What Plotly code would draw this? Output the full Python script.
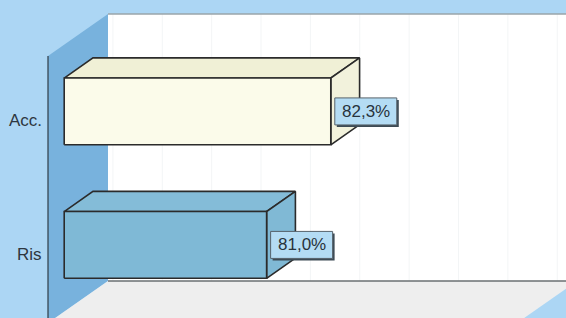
import math
import plotly.graph_objects as go

# ---- data ----
categories = ["Acc.", "Ris"]          # top to bottom
values = [82.3, 81.0]                 # percent
value_labels = ["82,3%", "81,0%"]
bar_front_colors = ["#fbfbea", "#7fb9d6"]
bar_top_colors = ["#f0f0d6", "#84bcd8"]
bar_side_colors = ["#f2f2dc", "#80b9d5"]

AXIS_MIN, AXIS_MAX = 76.9, 86.4       # value axis
GRID_STEP = 1.0

# ---- pseudo-3D geometry (data units) ----
DX, DY = 1.215, 0.3146                # full depth offset
Z_FRONT, Z_BACK = 0.27, 0.75          # bar depth span
HALF = 0.25                           # half bar thickness (category units)
n = len(categories)
C_MIN, C_MAX = -0.5, n - 0.5
cat_pos = {c: n - 1 - i for i, c in enumerate(categories)}


def P(v, c, z):
    return v + z * DX, c + z * DY


fig = go.Figure()


def poly(points, fill, line_color="rgba(0,0,0,0)", width=0):
    xs = [p[0] for p in points] + [points[0][0]]
    ys = [p[1] for p in points] + [points[0][1]]
    fig.add_trace(go.Scatter(x=xs, y=ys, mode="lines", fill="toself",
                             fillcolor=fill,
                             line=dict(color=line_color, width=width),
                             hoverinfo="skip", showlegend=False))


def seg(a, b, color, width):
    fig.add_trace(go.Scatter(x=[a[0], b[0]], y=[a[1], b[1]], mode="lines",
                             line=dict(color=color, width=width),
                             hoverinfo="skip", showlegend=False))


# back wall
poly([P(AXIS_MIN, C_MIN, 1), P(AXIS_MAX, C_MIN, 1), P(AXIS_MAX, C_MAX, 1), P(AXIS_MIN, C_MAX, 1)], "#ffffff")
g = math.ceil(AXIS_MIN)
while g <= AXIS_MAX:
    seg(P(g, C_MIN, 1), P(g, C_MAX, 1), "#f3f5f6", 1)
    g += GRID_STEP
seg(P(AXIS_MIN, C_MAX, 1), P(AXIS_MAX, C_MAX, 1), "#9aa4aa", 1.5)

# left wall
poly([P(AXIS_MIN, C_MIN, 0), P(AXIS_MIN, C_MAX, 0), P(AXIS_MIN, C_MAX, 1), P(AXIS_MIN, C_MIN, 1)], "#78b2dd")
# floor
poly([P(AXIS_MIN, C_MIN, 0), P(AXIS_MAX, C_MIN, 0), P(AXIS_MAX, C_MIN, 1), P(AXIS_MIN, C_MIN, 1)], "#eeeeee")
seg(P(AXIS_MIN, C_MIN, 1), P(AXIS_MAX, C_MIN, 1), "#6a6f72", 1.5)
# axis line
seg(P(AXIS_MIN, C_MIN, 0), P(AXIS_MIN, C_MAX, 0), "#2f3b45", 1.2)

# bars
EDGE = "#2b2b2b"
for cat, v, fc, tc, sc in zip(categories, values, bar_front_colors, bar_top_colors, bar_side_colors):
    c = cat_pos[cat]
    poly([P(AXIS_MIN, c + HALF, Z_FRONT), P(v, c + HALF, Z_FRONT), P(v, c + HALF, Z_BACK), P(AXIS_MIN, c + HALF, Z_BACK)], tc, EDGE, 1.6)
    poly([P(v, c - HALF, Z_FRONT), P(v, c - HALF, Z_BACK), P(v, c + HALF, Z_BACK), P(v, c + HALF, Z_FRONT)], sc, EDGE, 1.6)
    poly([P(AXIS_MIN, c - HALF, Z_FRONT), P(v, c - HALF, Z_FRONT), P(v, c + HALF, Z_FRONT), P(AXIS_MIN, c + HALF, Z_FRONT)], fc, EDGE, 1.6)

FONT = "Liberation Sans, Arial, sans-serif"
BOX_W, BOX_H, GAP, SH = 62, 27, 4, 2
for cat, v, lab in zip(categories, values, value_labels):
    c = cat_pos[cat]
    x, y = P(v, c, Z_FRONT)
    # shadow + box (pixel-sized shapes anchored at the bar end)
    fig.add_shape(type="rect", xref="x", yref="y", xsizemode="pixel", ysizemode="pixel",
                  xanchor=x, yanchor=y, x0=GAP + SH, x1=GAP + BOX_W + SH,
                  y0=-BOX_H / 2 - SH, y1=BOX_H / 2 - SH,
                  fillcolor="#3d4b55", line=dict(width=0), layer="above")
    fig.add_shape(type="rect", xref="x", yref="y", xsizemode="pixel", ysizemode="pixel",
                  xanchor=x, yanchor=y, x0=GAP, x1=GAP + BOX_W,
                  y0=-BOX_H / 2, y1=BOX_H / 2,
                  fillcolor="#b4dcf4", line=dict(color="#56626b", width=1), layer="above")
    fig.add_annotation(x=x, y=y, text=lab, showarrow=False, xanchor="center", yanchor="middle",
                       xshift=GAP + BOX_W / 2, yshift=0,
                       font=dict(family=FONT, size=17, color="#28333c"))
    # category label
    fig.add_annotation(x=AXIS_MIN, y=c, text=cat, showarrow=False, xanchor="right", yanchor="middle",
                       xshift=-4, yshift=2, font=dict(family=FONT, size=17, color="#2e3740"))

x0 = AXIS_MIN - 48 / 49.37
x1 = AXIS_MIN + 518 / 49.37
y0 = 5 / 133.5 - 0.5
y1 = 323 / 133.5 - 0.5
fig.update_layout(
    width=566, height=318, autosize=False,
    margin=dict(l=0, r=0, t=0, b=0),
    paper_bgcolor="#acd6f4", plot_bgcolor="#acd6f4",
    xaxis=dict(range=[x0, x1], visible=False, fixedrange=True),
    yaxis=dict(range=[y0, y1], visible=False, fixedrange=True),
    showlegend=False,
)
fig.write_html("out.html", config={"displayModeBar": False},
               post_script="document.body.style.margin='0';document.body.style.overflow='hidden';")
